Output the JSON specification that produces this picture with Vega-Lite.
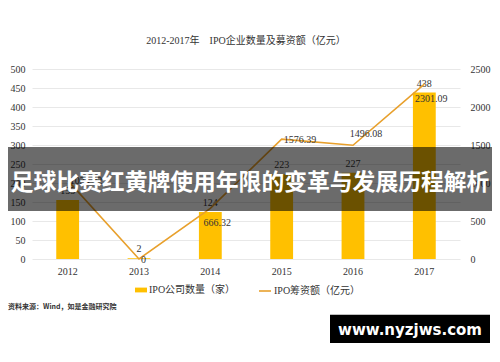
{
  "$schema": "https://vega.github.io/schema/vega-lite/v6.json",
  "autosize": "none",
  "width": 428,
  "height": 190,
  "padding": {"left": 32, "top": 69, "right": 40, "bottom": 103},
  "background": "white",
  "title": {
    "text": "2012-2017年　IPO企业数量及募资额（亿元）",
    "frame": "group",
    "offset": 18,
    "fontSize": 10,
    "font": "Liberation Serif, Noto Sans CJK SC",
    "fontWeight": "normal",
    "color": "#333333"
  },
  "config": {
    "view": {"stroke": null},
    "axis": {
      "labelFont": "Liberation Serif",
      "labelFontSize": 10,
      "labelColor": "#333333",
      "domain": false,
      "ticks": false,
      "title": null
    },
    "legend": {
      "labelFont": "Liberation Serif, Noto Sans CJK SC",
      "labelFontSize": 10,
      "labelColor": "#333333",
      "title": null
    },
    "text": {"font": "Liberation Serif", "fontSize": 10, "color": "#333333"}
  },
  "data": {
    "values": [
      {"year": "2012", "count": 155, "amount": 1034.32},
      {"year": "2013", "count": 2, "amount": 0},
      {"year": "2014", "count": 124, "amount": 666.32},
      {"year": "2015", "count": 223, "amount": 1576.39},
      {"year": "2016", "count": 227, "amount": 1496.08},
      {"year": "2017", "count": 438, "amount": 2301.09}
    ]
  },
  "encoding": {
    "x": {
      "field": "year",
      "type": "ordinal",
      "scale": {"paddingInner": 0.68, "paddingOuter": 0.34},
      "axis": {"labelAngle": 0, "labelPadding": 7, "grid": false}
    }
  },
  "layer": [
    {
      "encoding": {
        "y": {
          "field": "count",
          "type": "quantitative",
          "scale": {"domain": [0, 500]},
          "axis": {"orient": "left", "values": [0, 50, 100, 150, 200, 250, 300, 350, 400, 450, 500], "format": "d", "grid": true, "gridColor": "#e8e8e8", "labelPadding": 7}
        }
      },
      "layer": [
        {
          "mark": {"type": "bar", "color": "#FFC000"},
          "encoding": {
            "fill": {"datum": "IPO公司数量（家）", "scale": {"range": ["#FFC000"]},
              "legend": {"orient": "none", "legendX": 103, "legendY": 215, "symbolType": "M-1,-0.4H1V0.4H-1Z", "symbolSize": 144, "symbolStrokeWidth": 0, "labelOffset": 2}}
          }
        },
        {
          "mark": {"type": "text", "baseline": "bottom", "dy": -4},
          "encoding": {"text": {"field": "count", "type": "quantitative"}}
        }
      ]
    },
    {
      "encoding": {
        "y": {
          "field": "amount",
          "type": "quantitative",
          "scale": {"domain": [0, 2500]},
          "axis": {"orient": "right", "values": [0, 500, 1000, 1500, 2000, 2500], "format": "d", "grid": false, "labelPadding": 10}
        }
      },
      "layer": [
        {
          "mark": {"type": "line", "color": "#E8A02C", "strokeWidth": 1.6},
          "encoding": {
            "stroke": {"datum": "IPO筹资额（亿元）", "scale": {"range": ["#E8A02C"]},
              "legend": {"orient": "none", "legendX": 226, "legendY": 215, "symbolType": "stroke", "symbolSize": 144, "symbolStrokeWidth": 1.6, "labelOffset": 2}}
          }
        },
        {
          "transform": [{"filter": "datum.year == '2012' || datum.year == '2013' || datum.year == '2015'"}],
          "mark": {"type": "text", "align": "left", "baseline": "middle", "dx": 2, "dy": 1},
          "encoding": {"text": {"field": "amount", "type": "quantitative", "format": ".2~f"}}
        },
        {
          "transform": [{"filter": "datum.year == '2014' || datum.year == '2017'"}],
          "mark": {"type": "text", "align": "center", "baseline": "middle", "dx": 7, "dy": 15},
          "encoding": {"text": {"field": "amount", "type": "quantitative", "format": ".2f"}}
        },
        {
          "transform": [{"filter": "datum.year == '2016'"}],
          "mark": {"type": "text", "align": "center", "baseline": "middle", "dx": 13, "dy": -11},
          "encoding": {"text": {"field": "amount", "type": "quantitative", "format": ".2f"}}
        }
      ]
    },
    {
      "data": {"values": [{"banner": "足球比赛红黄牌使用年限的变革与发展历程解析", "wm": "www.nyzjws.com", "src": "资料来源：Wind，如是金融研究院"}]},
      "layer": [
        {
          "mark": {"type": "rect", "color": "black", "opacity": 0.58},
          "encoding": {
            "x": {"value": -24},
            "x2": {"value": 460},
            "y": {"datum": 295, "type": "quantitative", "scale": {"domain": [0, 500]}, "axis": null},
            "y2": {"datum": 126}
          }
        },
        {
          "mark": {"type": "text", "font": "Noto Sans CJK SC", "fontSize": 22.8, "fontWeight": "bold", "color": "white", "align": "center", "baseline": "middle"},
          "encoding": {
            "x": {"value": 218},
            "y": {"datum": 199, "type": "quantitative"},
            "text": {"field": "banner"}
          }
        },
        {
          "mark": {"type": "rect", "color": "black"},
          "encoding": {
            "x": {"value": 298},
            "x2": {"value": 458},
            "y": {"datum": -147, "type": "quantitative"},
            "y2": {"datum": -221}
          }
        },
        {
          "mark": {"type": "text", "font": "DejaVu Sans", "fontSize": 15, "fontWeight": "bold", "color": "white", "align": "center", "baseline": "middle"},
          "encoding": {
            "x": {"value": 378},
            "y": {"datum": -187, "type": "quantitative"},
            "text": {"field": "wm"}
          }
        },
        {
          "mark": {"type": "text", "font": "Noto Sans CJK SC", "fontSize": 7, "fontWeight": "bold", "color": "#333333", "align": "left", "baseline": "middle"},
          "encoding": {
            "x": {"value": -24},
            "y": {"datum": -126, "type": "quantitative"},
            "text": {"field": "src"}
          }
        }
      ]
    }
  ],
  "resolve": {"scale": {"y": "independent", "fill": "independent", "stroke": "independent"}}
}
